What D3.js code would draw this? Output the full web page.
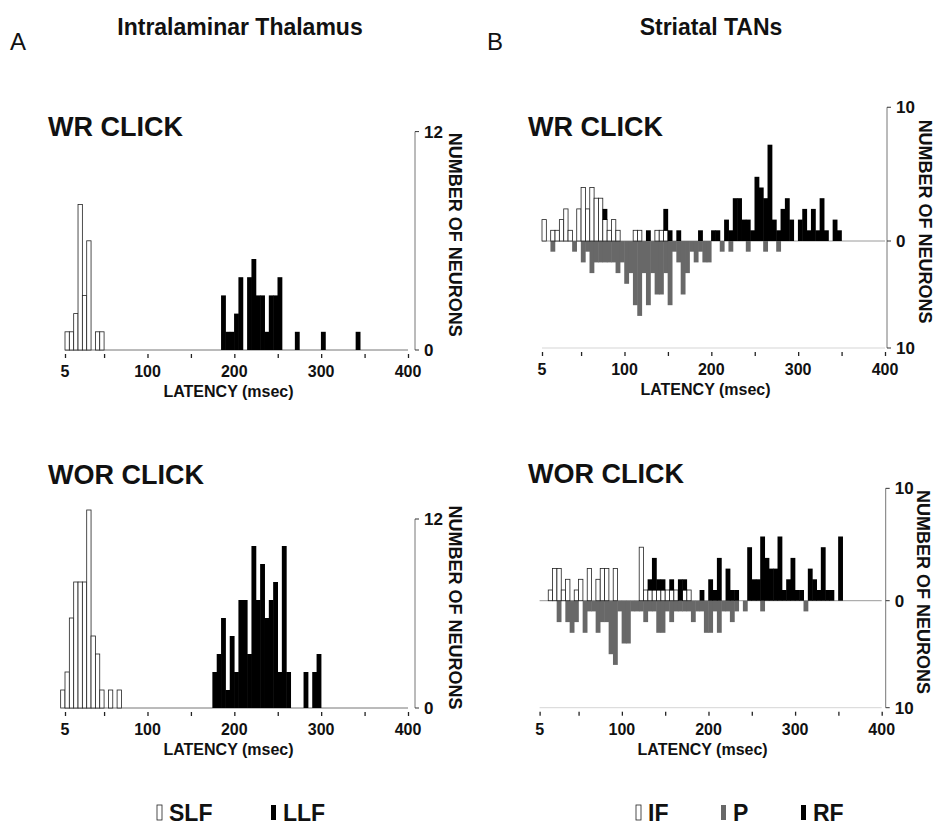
<!DOCTYPE html>
<html>
<head>
<meta charset="utf-8">
<script src="https://cdn.jsdelivr.net/npm/d3@7/dist/d3.min.js"></script>
<style>
  body { margin: 0; background: #fff; }
  svg text { font-family: "Liberation Sans", Arial, Helvetica, sans-serif; font-weight: bold; fill: #111; }
</style>
</head>
<body>
<svg id="chart" width="934" height="827"></svg>
<script>
// bins are 5 ms wide, each array starts at its *Start latency (msec)
const BIN = 5;
const xTicks = [5, 50, 100, 150, 200, 250, 300, 350, 400];
const xTickLabels = [5, 100, 200, 300, 400];

// A - Intralaminar thalamus, WR CLICK
const aWrSlfStart = 5;
const aWrSlf = [1, 1, 2, 8, 3, 6, 0, 1, 1];
const aWrLlfStart = 185;
const aWrLlf = [3, 1, 1, 2, 4, 0, 4, 5, 3, 3, 1, 3, 3, 4, 0, 0, 0, 1, 0, 0, 0, 0, 0, 1, 0, 0, 0, 0, 0, 0, 0, 1];

// A - WOR CLICK
const aWorSlfStart = 0;
const aWorSlf = [1, 2, 5, 7, 7, 7, 11, 4, 3, 1, 0, 1, 0, 1];
const aWorLlfStart = 175;
const aWorLlf = [2, 3, 5, 1, 4, 2, 6, 6, 3, 9, 6, 8, 5, 6, 7, 2, 9, 2, 0, 0, 0, 2, 0, 2, 3];

// B - Striatal TANs, WR CLICK (IF / RF up, P down)
const bWrStart = 5;
const bWrIf = [2, 0, 1, 1, 2, 3, 1, 0, 3, 5, 3, 5, 4, 4, 2, 1, 2, 1, 0, 0, 0, 1, 1, 0, 0, 0, 1, 1, 1];
const bWrRf = [0, 0, 0, 0, 0, 0, 0, 0, 0, 0, 0, 0, 0, 0, 1, 0, 0, 0, 0, 0, 0, 0, 0, 0, 1, 0, 0, 0, 2, 1,
               0, 1, 0, 0, 0, 0, 1, 0, 0, 1, 1, 0, 2, 1, 4, 4, 2, 2, 1, 6, 5, 4, 9, 2, 1, 3, 4, 2, 0, 2,
               3, 1, 3, 1, 4, 1, 0, 2, 1];
const bWrP = [0, 0, 1, 0, 0, 0, 0, 1, 0, 2, 1, 3, 2, 2, 2, 2, 2, 3, 2, 4, 3, 6, 7, 3, 6, 3, 5, 5, 3, 6,
              1, 2, 5, 3, 1, 2, 1, 2, 2, 0, 0, 1, 0, 1, 0, 0, 0, 1, 0, 0, 0, 1, 0, 0, 1];

// B - WOR CLICK
const bWorStart = 15;
const bWorIf = [1, 3, 3, 1, 2, 0, 1, 2, 0, 3, 0, 2, 3, 3, 0, 3, 0, 0, 0, 0, 0, 5, 1, 1, 1, 1, 1, 1, 1, 1,
                0, 1, 1];
const bWorRf = [0, 0, 0, 0, 0, 0, 0, 0, 0, 0, 0, 0, 0, 0, 0, 0, 0, 0, 0, 0, 0, 0, 0, 1, 3, 1, 1, 0, 1, 0,
                2, 1, 0, 0, 0, 1, 0, 2, 1, 4, 0, 3, 1, 1, 0, 0, 5, 2, 2, 6, 4, 3, 3, 6, 1, 2, 4, 1, 1, 0,
                3, 2, 1, 5, 1, 1, 0, 6];
const bWorP = [0, 0, 2, 0, 2, 3, 2, 0, 3, 1, 1, 3, 2, 2, 5, 6, 1, 4, 4, 1, 1, 1, 2, 1, 1, 3, 3, 1, 2, 1,
               1, 1, 1, 2, 1, 1, 3, 3, 1, 3, 1, 1, 2, 1, 0, 1, 0, 0, 0, 1, 0, 0, 0, 0, 0, 0, 0, 0, 0, 1];

// right axis: where the printed labels sit (in count units) and what they read
const aWrAxisAt = [12, 0], aWrAxisText = ["12", "0"];
const aWorAxisAt = [10.5, 0], aWorAxisText = ["12", "0"];
const bWrAxisAt = [12.5, 0, -10], bWrAxisText = ["10", "0", "10"];
const bWorAxisAt = [10.5, 0, -10], bWorAxisText = ["10", "0", "10"];

const svg = d3.select("#chart");

function toBins(start, counts, base) {
    return counts.map((c, i) => ({ t: start + i * BIN, n: c, base: base ? base[i] || 0 : 0 }))
        .filter(d => d.n > 0);
}

function drawBars(g, x, y, data, style, down) {
    // filled bars get a hair of overlap so neighbours merge without seams
    const pad = style.stroke ? 0 : 0.5;
    g.append("g").selectAll("rect")
        .data(data)
        .enter().append("rect")
        .attr("x", d => x(d.t) - pad / 2)
        .attr("width", d => x(d.t + BIN) - x(d.t) + pad)
        .attr("y", d => down ? y(0) : y(d.base + d.n))
        .attr("height", d => down ? y(-d.n) - y(0) : y(d.base) - y(d.base + d.n) + (d.base ? 0.4 : 0))
        .attr("fill", style.fill)
        .attr("stroke", style.stroke || "none")
        .attr("stroke-width", style.stroke ? 0.8 : 0);
}

function drawPanel(p) {
    const x = d3.scaleLinear().domain([5, 400]).range([p.x0, p.x1]);
    const y = d3.scaleLinear().domain([0, 1]).range([p.zeroY, p.zeroY - p.unit]);
    const g = svg.append("g");
    const bottomY = p.split ? y(-10) : y(0);

    // baseline / zero line
    g.append("line")
        .attr("x1", x(5)).attr("x2", x(400))
        .attr("y1", y(0)).attr("y2", y(0))
        .attr("stroke", p.split ? "#9a9a9a" : "#777").attr("stroke-width", 1);
    if (p.split) {
        g.append("line")
            .attr("x1", x(5)).attr("x2", x(400))
            .attr("y1", bottomY).attr("y2", bottomY)
            .attr("stroke", "#d5d5d5").attr("stroke-width", 1);
    }

    // x ticks and labels
    const axis = d3.axisBottom(x).tickValues(xTicks).tickSize(4).tickFormat("");
    const ax = g.append("g").attr("transform", `translate(0,${bottomY + 4})`).call(axis);
    ax.select(".domain").remove();
    ax.selectAll(".tick line").attr("stroke", "#222").attr("stroke-width", 1.3);
    g.selectAll(".xl").data(xTickLabels).enter().append("text")
        .attr("x", d => x(d)).attr("y", bottomY + 27)
        .attr("text-anchor", "middle").style("font-size", "16px")
        .text(d => d);
    g.append("text")
        .attr("x", (x(5) + x(400)) / 2 - 8).attr("y", bottomY + 47)
        .attr("text-anchor", "middle").style("font-size", "16px")
        .text("LATENCY (msec)");

    // right axis
    const ra = x(400) + p.axisGap;
    const yTop = y(d3.max(p.axisAt)), yBot = y(d3.min(p.axisAt));
    g.append("line").attr("x1", ra).attr("x2", ra).attr("y1", yTop).attr("y2", yBot)
        .attr("stroke", "#777").attr("stroke-width", 1);
    p.axisAt.forEach((v, i) => {
        g.append("line").attr("x1", ra).attr("x2", ra + 4).attr("y1", y(v)).attr("y2", y(v))
            .attr("stroke", "#333").attr("stroke-width", 1);
        g.append("text").attr("x", ra + 9).attr("y", y(v))
            .attr("dy", "0.36em").style("font-size", "17px")
            .text(p.axisText[i]);
    });
    const midY = (yTop + yBot) / 2 - 6;
    g.append("text")
        .attr("transform", `translate(${ra + p.nameGap},${midY}) rotate(90)`)
        .attr("text-anchor", "middle").attr("dy", "0.35em")
        .style("font-size", "18px")
        .text("NUMBER OF NEURONS");

    g.append("text").attr("x", p.titleX).attr("y", p.titleY)
        .style("font-size", "27px").text(p.title);

    p.series.forEach(s => drawBars(g, x, y, s.data, s.style, s.down));
}

const white = { fill: "#fff", stroke: "#222" };
const black = { fill: "#000" };
const grey = { fill: "#686868" };

drawPanel({
    x0: 65, x1: 408, zeroY: 350, unit: 18.2, split: false, axisGap: 7, nameGap: 40,
    axisAt: aWrAxisAt, axisText: aWrAxisText, title: "WR CLICK", titleX: 48, titleY: 136,
    series: [
        { data: toBins(aWrSlfStart, aWrSlf), style: white },
        { data: toBins(aWrLlfStart, aWrLlf), style: black }
    ]
});
drawPanel({
    x0: 65, x1: 408, zeroY: 708, unit: 18, split: false, axisGap: 7, nameGap: 40,
    axisAt: aWorAxisAt, axisText: aWorAxisText, title: "WOR CLICK", titleX: 48, titleY: 484,
    series: [
        { data: toBins(aWorSlfStart, aWorSlf), style: white },
        { data: toBins(aWorLlfStart, aWorLlf), style: black }
    ]
});
drawPanel({
    x0: 542, x1: 885, zeroY: 241, unit: 10.7, split: true, axisGap: 2, nameGap: 38,
    axisAt: bWrAxisAt, axisText: bWrAxisText, title: "WR CLICK", titleX: 528, titleY: 136,
    series: [
        { data: toBins(bWrStart, bWrP), style: grey, down: true },
        { data: toBins(bWrStart, bWrIf), style: white },
        { data: toBins(bWrStart, bWrRf, bWrIf), style: black }
    ]
});
drawPanel({
    x0: 539.6, x1: 881.7, zeroY: 600.7, unit: 10.7, split: true, axisGap: 4, nameGap: 38,
    axisAt: bWorAxisAt, axisText: bWorAxisText, title: "WOR CLICK", titleX: 528, titleY: 483,
    series: [
        { data: toBins(bWorStart, bWorP), style: grey, down: true },
        { data: toBins(bWorStart, bWorIf), style: white },
        { data: toBins(bWorStart, bWorRf, bWorIf), style: black }
    ]
});

// panel letters and headings
svg.append("text").attr("x", 10).attr("y", 50).style("font-size", "24px").style("font-weight", "normal").text("A");
svg.append("text").attr("x", 487).attr("y", 50).style("font-size", "24px").style("font-weight", "normal").text("B");
svg.append("text").attr("x", 240).attr("y", 35).attr("text-anchor", "middle").style("font-size", "23px").text("Intralaminar Thalamus");
svg.append("text").attr("x", 711).attr("y", 35).attr("text-anchor", "middle").style("font-size", "23px").text("Striatal TANs");

// legends
const legendA = [{ label: "SLF", style: white, x: 157 }, { label: "LLF", style: black, x: 271 }];
const legendB = [{ label: "IF", style: white, x: 636 }, { label: "P", style: grey, x: 721 }, { label: "RF", style: black, x: 801 }];
legendA.concat(legendB).forEach(d => {
    svg.append("rect").attr("x", d.x).attr("y", 805).attr("width", 5).attr("height", 15)
        .attr("fill", d.style.fill).attr("stroke", d.style.stroke || "none").attr("stroke-width", 0.8);
    svg.append("text").attr("x", d.x + 12).attr("y", 821).style("font-size", "23px").text(d.label);
});
</script>
</body>
</html>
